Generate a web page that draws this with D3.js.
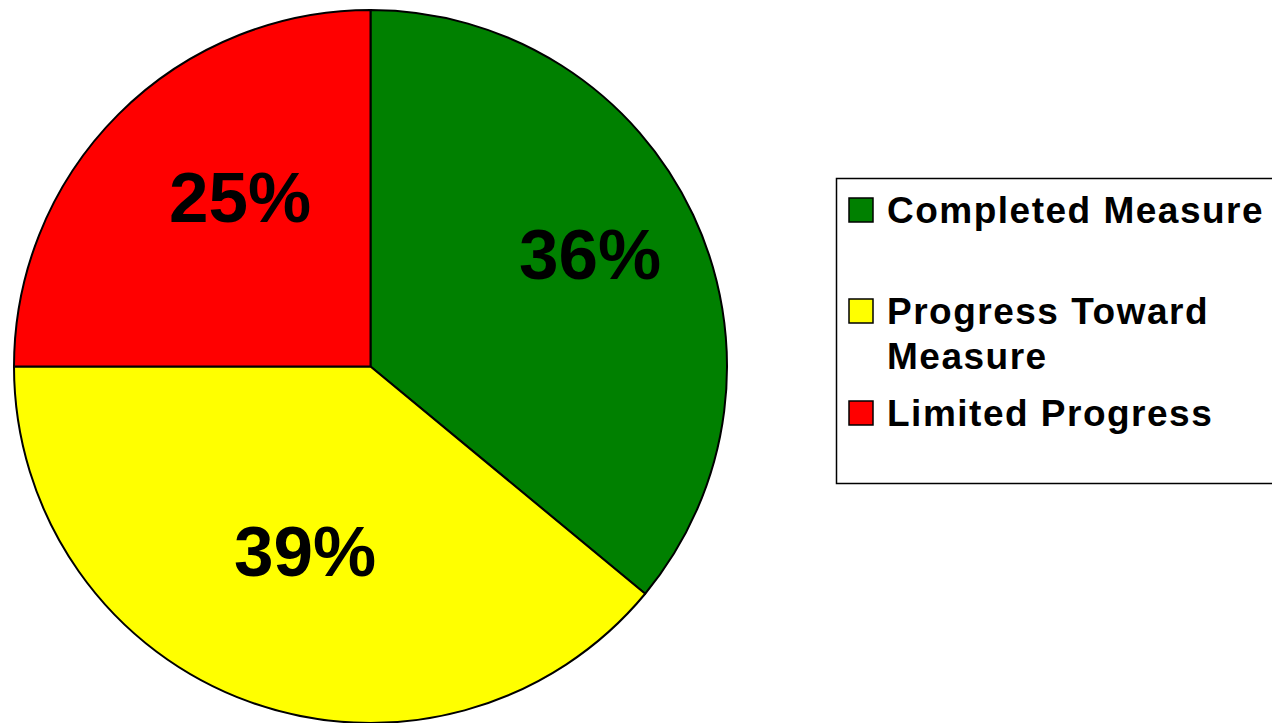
<!DOCTYPE html>
<html>
<head>
<meta charset="utf-8">
<script src="https://cdn.jsdelivr.net/npm/d3@7"></script>
<style>
  html, body { margin: 0; padding: 0; background: #fff; }
  svg { display: block; }
</style>
</head>
<body>
<svg id="chart" width="1272" height="723"></svg>
<script>
const categories = ["Completed Measure", "Progress Toward Measure", "Limited Progress"];
const legendLines = [["Completed Measure"], ["Progress Toward", "Measure"], ["Limited Progress"]];
const values = [36, 39, 25];
const colors = ["#008000", "#FFFF00", "#FF0000"];
const labels = ["36%", "39%", "25%"];

const svg = d3.select("#chart");
const cx = 370.5, cy = 366.5, r = 356.5;

const pie = d3.pie().sort(null).value(d => d)(values);
const arc = d3.arc().innerRadius(0).outerRadius(r);

const g = svg.append("g").attr("transform", `translate(${cx},${cy})`);
g.selectAll("path").data(pie).join("path")
  .attr("d", arc)
  .attr("fill", (d, i) => colors[i])
  .attr("stroke", "#000")
  .attr("stroke-width", 2)
  .attr("stroke-linejoin", "round");

// label positions (offset from centroid)
const labelArc = d3.arc().innerRadius(0).outerRadius(r * 1.0);
const labelPos = [[590, 279], [305, 576], [240, 222]];
svg.selectAll("text.pct").data(pie).join("text")
  .attr("class", "pct")
  .attr("x", (d, i) => labelPos[i][0])
  .attr("y", (d, i) => labelPos[i][1])
  .attr("text-anchor", "middle")
  .attr("font-family", "Liberation Sans, Arial, sans-serif")
  .attr("font-weight", "bold")
  .attr("font-size", 71)
  .attr("fill", "#000")
  .text((d, i) => labels[i]);

// legend
const legend = svg.append("g");
legend.append("rect")
  .attr("x", 836.5).attr("y", 178.5)
  .attr("width", 500).attr("height", 305)
  .attr("fill", "#fff").attr("stroke", "#000").attr("stroke-width", 1.5);

const itemY = [198, 299, 401];
const lineH = 45;
categories.forEach((c, i) => {
  legend.append("rect")
    .attr("x", 849).attr("y", itemY[i])
    .attr("width", 24).attr("height", 24)
    .attr("fill", colors[i]).attr("stroke", "#000").attr("stroke-width", 1.5);
  legendLines[i].forEach((ln, j) => {
    legend.append("text")
      .attr("x", 887).attr("y", itemY[i] + 25 + j * lineH)
      .attr("font-family", "Liberation Sans, Arial, sans-serif")
      .attr("font-weight", "bold")
      .attr("font-size", 37)
      .attr("letter-spacing", 1.5)
      .attr("fill", "#000")
      .text(ln);
  });
});
</script>
</body>
</html>
